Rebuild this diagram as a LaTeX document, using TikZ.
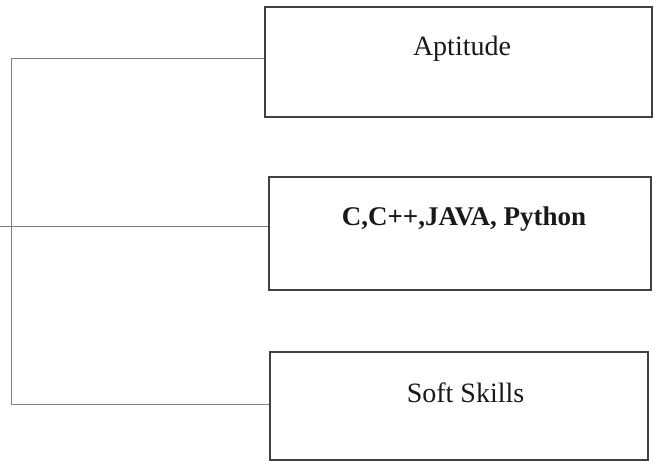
\documentclass[tikz,border=0pt]{standalone}
\usepackage{fontspec}
\setmainfont{Liberation Serif}
\begin{document}
\begin{tikzpicture}[x=1pt,y=-1pt,
  box/.style={draw=black!75,line width=1.2pt,inner sep=0pt},
  lbl/.style={anchor=base,inner sep=0pt,font=\fontsize{28}{30}\selectfont,text=black!90},
  conn/.style={draw=black!50,line width=1pt}]
\useasboundingbox (0,0) rectangle (657,461);
\node[box,minimum width=387pt,minimum height=110pt] (b1) at (458.5,62) {};
\node[box,minimum width=382pt,minimum height=113pt] (b2) at (460,233.5) {};
\node[box,minimum width=378pt,minimum height=108pt] (b3) at (459,406) {};
\node[lbl] (t1) at (462,55) {Aptitude};
\node[lbl,font=\fontsize{27}{29}\selectfont\bfseries] (t2) at (464,225) {C,C++,JAVA, Python};
\node[lbl] (t3) at (465.5,402) {Soft Skills};
\coordinate (j1) at (11,58);
\coordinate (j3) at (11,404);
\coordinate (m) at (0,226);
\draw[conn] (b1.west |- j1) -- (j1) -- (j3) -- (b3.west |- j3);
\draw[conn] (m) -- (m -| b2.west);
\end{tikzpicture}
\end{document}
